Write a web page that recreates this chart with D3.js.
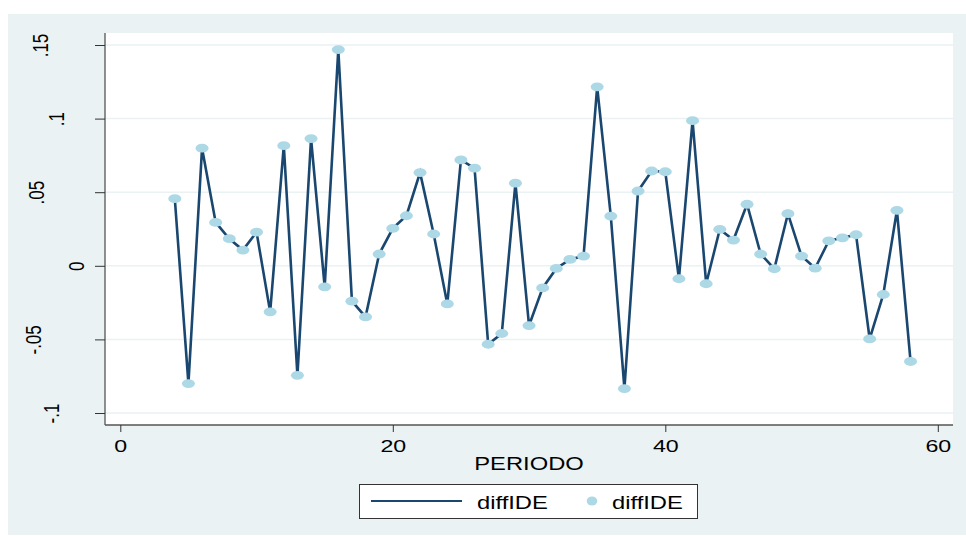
<!DOCTYPE html>
<html>
<head>
<meta charset="utf-8">
<script src="https://cdn.jsdelivr.net/npm/d3@7"></script>
<style>
  body { margin: 0; background: #fff; }
  svg { display: block; font-family: "Liberation Sans", Arial, sans-serif; }
</style>
</head>
<body>
<svg id="chart" width="966" height="536"></svg>
<script>
// PERIODO 4..58
const periodo = d3.range(4, 59);
const diffIDE = [
  0.0456, -0.0800, 0.0799, 0.0295, 0.0184, 0.0107, 0.0229, -0.0313, 0.0816, -0.0744,
  0.0864, -0.0143, 0.1469, -0.0240, -0.0347, 0.0080, 0.0254, 0.0340, 0.0633, 0.0216,
  -0.0259, 0.0719, 0.0663, -0.0533, -0.0460, 0.0561, -0.0406, -0.0150, -0.0018, 0.0043,
  0.0066, 0.1216, 0.0338, -0.0834, 0.0508, 0.0644, 0.0639, -0.0088, 0.0986, -0.0122,
  0.0248, 0.0175, 0.0418, 0.0080, -0.0020, 0.0354, 0.0066, -0.0016, 0.0170, 0.0190,
  0.0211, -0.0497, -0.0195, 0.0377, -0.0650
];
const xTicks = [0, 20, 40, 60];
const yTicks = [-0.1, -0.05, 0, 0.05, 0.1, 0.15];
const yTickLabels = ["-.1", "-.05", "0", ".05", ".1", ".15"];
const legendLabels = ["diffIDE", "diffIDE"];

// label centre x (quirky in the original render)
const yLabelCx = [51, 33.5, 76.5, 36, 56.5, 40];

const lineColor = "#1a476f";
const markerColor = "#add8e6";
const bgColor = "#eaf2f3";

const svg = d3.select("#chart");

const plot = { left: 105, right: 953, top: 33, bottom: 425 };

const x = d3.scaleLinear().domain([0, 60]).range([120.3, 937.8]);
const y = d3.scaleLinear().domain([-0.1, 0.15]).range([413, 45]);

// outer background + plot region
svg.append("rect").attr("x", 8).attr("y", 14).attr("width", 958).attr("height", 521)
  .attr("fill", bgColor);
svg.append("rect").attr("x", plot.left).attr("y", plot.top)
  .attr("width", plot.right - plot.left).attr("height", plot.bottom - plot.top)
  .attr("fill", "#fff");

// gridlines
svg.append("g").selectAll("line").data(yTicks).join("line")
  .attr("x1", plot.left).attr("x2", plot.right)
  .attr("y1", d => y(d)).attr("y2", d => y(d))
  .attr("stroke", bgColor).attr("stroke-width", 1.5);

// line + markers
const pts = periodo.map((p, i) => [p, diffIDE[i]]);
svg.append("path").datum(pts)
  .attr("fill", "none").attr("stroke", lineColor).attr("stroke-width", 2.6)
  .attr("stroke-linejoin", "miter")
  .attr("d", d3.line().x(d => x(d[0])).y(d => y(d[1])));

svg.append("g").selectAll("ellipse").data(pts).join("ellipse")
  .attr("cx", d => x(d[0])).attr("cy", d => y(d[1]))
  .attr("rx", 6.5).attr("ry", 4.4)
  .attr("fill", markerColor);

// x axis
const xAxis = svg.append("g").attr("transform", `translate(0,${plot.bottom})`)
  .call(d3.axisBottom(x).tickValues(xTicks).tickFormat(d3.format("d"))
    .tickSize(7).tickSizeOuter(0).tickPadding(9));
xAxis.select(".domain").attr("d", `M${plot.left},0H${plot.right}`)
  .attr("stroke", "#555").attr("stroke-width", 1.3);
xAxis.selectAll(".tick line").attr("stroke", "#333");
xAxis.selectAll(".tick text")
  .attr("font-size", 16).attr("fill", "#000")
  .attr("transform", "scale(1.45,1)");

// y axis
const yAxis = svg.append("g").attr("transform", `translate(${plot.left},0)`)
  .call(d3.axisLeft(y).tickValues(yTicks).tickFormat((d, i) => yTickLabels[i])
    .tickSize(10).tickSizeOuter(0));
yAxis.select(".domain").attr("d", `M0,${plot.top}V${plot.bottom}`)
  .attr("stroke", "#555").attr("stroke-width", 1.3);
yAxis.selectAll(".tick line").attr("stroke", "#333");
yAxis.selectAll(".tick text")
  .attr("x", null).attr("dy", null)
  .attr("font-size", 17).attr("fill", "#000")
  .attr("text-anchor", "middle").attr("dominant-baseline", "central")
  .attr("transform", (d, i) => `translate(${yLabelCx[i] - plot.left},0) scale(1.3,1) rotate(-90)`);

// x title
svg.append("text")
  .attr("transform", `translate(${(plot.left + plot.right) / 2},470) scale(1.25,1)`)
  .attr("text-anchor", "middle").attr("font-size", 19).attr("fill", "#000")
  .text("PERIODO");

// legend
const lg = svg.append("g");
lg.append("rect").attr("x", 359.5).attr("y", 484.5).attr("width", 338).attr("height", 34)
  .attr("fill", "#fff").attr("stroke", "#333").attr("stroke-width", 1);
lg.append("line").attr("x1", 371).attr("x2", 462).attr("y1", 501).attr("y2", 501)
  .attr("stroke", lineColor).attr("stroke-width", 1.8);
lg.append("ellipse").attr("cx", 592).attr("cy", 501).attr("rx", 5.3).attr("ry", 4.5)
  .attr("fill", markerColor);
lg.selectAll("text").data(legendLabels).join("text")
  .attr("transform", (d, i) => `translate(${i === 0 ? 477 : 612},509) scale(1.25,1)`)
  .attr("font-size", 19).attr("fill", "#000")
  .text(d => d);
</script>
</body>
</html>
